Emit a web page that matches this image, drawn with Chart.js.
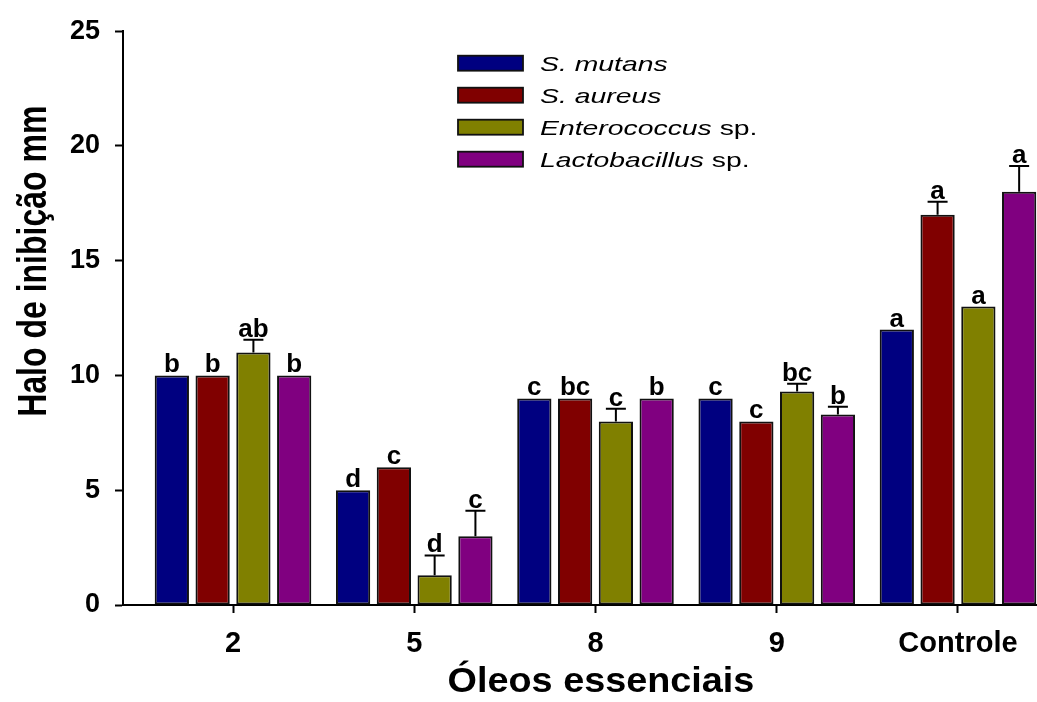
<!DOCTYPE html>
<html>
<head>
<meta charset="utf-8">
<script src="https://cdn.jsdelivr.net/npm/chart.js@4/dist/chart.umd.min.js"></script>
<style>
  html, body { margin: 0; padding: 0; background: #fff; overflow: hidden; }
  #wrap { width: 1037px; height: 702px; position: relative; }
</style>
</head>
<body>
<div id="wrap"><canvas id="chart" width="1037" height="702"></canvas></div>
<script>
// Essential oils (x categories) and the four test organisms
const categories = ['2', '5', '8', '9', 'Controle'];
const seriesNames = ['S. mutans', 'S. aureus', 'Enterococcus sp.', 'Lactobacillus sp.'];
const seriesColors = ['#000080', '#800000', '#808000', '#800080'];

// Mean inhibition halo (mm)
const sMutans       = [10, 5,   9, 9,   12];
const sAureus       = [10, 6,   9, 8,   17];
const enterococcus  = [11, 1.3, 8, 9.3, 13];
const lactobacillus = [10, 3,   9, 8.3, 18];

// Upper error bar length (mm)
const errMutans       = [0,    0,    0,    0,    0];
const errAureus       = [0,    0,    0,    0,    0.57];
const errEnterococcus = [0.56, 0.86, 0.55, 0.34, 0];
const errLactobacillus= [0,    1.11, 0,    0.34, 1.13];

// Significance letters
const lettersMutans        = ['b', 'd', 'c', 'c', 'a'];
const lettersAureus        = ['b', 'c', 'bc', 'c', 'a'];
const lettersEnterococcus  = ['ab', 'd', 'c', 'bc', 'a'];
const lettersLactobacillus = ['b', 'c', 'b', 'b', 'a'];

const yTicks = [0, 5, 10, 15, 20, 25];
const xTitle = 'Óleos essenciais';
const yTitle = 'Halo de inibição mm';

const seriesValues = [sMutans, sAureus, enterococcus, lactobacillus];
const seriesErrors = [errMutans, errAureus, errEnterococcus, errLactobacillus];
const seriesLetters = [lettersMutans, lettersAureus, lettersEnterococcus, lettersLactobacillus];

const datasets = seriesNames.map((name, s) => ({
  label: name,
  data: seriesValues[s].map((v, i) => ({ x: i, y: v })),
  errors: seriesErrors[s],
  letters: seriesLetters[s],
  backgroundColor: seriesColors[s],
  borderColor: '#111',
  borderWidth: 2,
  borderSkipped: false,
  categoryPercentage: 0.9,
  barPercentage: 0.84
}));

const FONT = "'Liberation Sans', Arial, sans-serif";

// Error bars, letters, legend and axis titles
const decorations = {
  id: 'decorations',
  afterDatasetsDraw(chart) {
    const ctx = chart.ctx;
    const yScale = chart.scales.y;
    ctx.save();
    chart.data.datasets.forEach((ds, s) => {
      const meta = chart.getDatasetMeta(s);
      meta.data.forEach((bar, i) => {
        const v = ds.data[i].y;
        const e = ds.errors[i];
        let top = bar.y;
        if (e > 0) {
          const yt = yScale.getPixelForValue(v + e);
          ctx.strokeStyle = '#000';
          ctx.lineWidth = 2;
          ctx.beginPath();
          ctx.moveTo(bar.x, bar.y);
          ctx.lineTo(bar.x, yt);
          ctx.moveTo(bar.x - 10, yt);
          ctx.lineTo(bar.x + 10, yt);
          ctx.stroke();
          top = yt;
        }
        ctx.fillStyle = '#000';
        ctx.font = 'bold 26px ' + FONT;
        ctx.textAlign = 'center';
        ctx.textBaseline = 'alphabetic';
        ctx.fillText(ds.letters[i], bar.x, top - 3);
      });
    });
    ctx.restore();
  },
  afterDraw(chart) {
    const ctx = chart.ctx;
    const area = chart.chartArea;
    ctx.save();

    // Legend
    const boxX = area.left + 335, boxW = 65, boxH = 15;
    const textX = area.left + 417;
    chart.data.datasets.forEach((ds, s) => {
      const cy = area.top + 32 + s * 32;
      ctx.fillStyle = ds.backgroundColor;
      ctx.fillRect(boxX, cy - boxH / 2, boxW, boxH);
      ctx.strokeStyle = '#111';
      ctx.lineWidth = 1.8;
      ctx.strokeRect(boxX, cy - boxH / 2, boxW, boxH);

      let name = ds.label, tail = '';
      if (name.endsWith(' sp.')) { tail = ' sp.'; name = name.slice(0, -4); }
      ctx.save();
      ctx.translate(textX, cy + 7.5);
      ctx.scale(1.35, 1);
      ctx.fillStyle = '#000';
      ctx.textAlign = 'left';
      ctx.textBaseline = 'alphabetic';
      ctx.font = 'italic 21px ' + FONT;
      ctx.fillText(name, 0, 0);
      if (tail) {
        const w = ctx.measureText(name).width;
        ctx.font = '21px ' + FONT;
        ctx.fillText(tail, w, 0);
      }
      ctx.restore();
    });

    // X axis title
    ctx.save();
    ctx.translate(area.left + 478, area.bottom + 87);
    ctx.scale(1.08, 1);
    ctx.fillStyle = '#000';
    ctx.font = 'bold 35px ' + FONT;
    ctx.textAlign = 'center';
    ctx.textBaseline = 'alphabetic';
    ctx.fillText(xTitle, 0, 0);
    ctx.restore();

    // Y axis title
    ctx.save();
    ctx.translate(46, area.top + 230);
    ctx.rotate(-Math.PI / 2);
    ctx.scale(1, 1.25);
    ctx.fillStyle = '#000';
    ctx.font = 'bold 32px ' + FONT;
    ctx.textAlign = 'center';
    ctx.textBaseline = 'alphabetic';
    ctx.fillText(yTitle, 0, 0);
    ctx.restore();

    ctx.restore();
  }
};

new Chart(document.getElementById('chart'), {
  type: 'bar',
  data: { datasets },
  plugins: [decorations],
  options: {
    responsive: false,
    animation: false,
    devicePixelRatio: 1,
    layout: { padding: { top: 27, right: 0, bottom: 0, left: 0 } },
    plugins: {
      legend: { display: false },
      tooltip: { enabled: false }
    },
    scales: {
      x: {
        type: 'linear',
        bounds: 'data',
        offset: false,
        min: -0.607,
        max: 4.436,
        afterBuildTicks: (scale) => {
          scale.ticks = categories.map((_, i) => ({ value: i }));
        },
        afterFit: (scale) => { scale.height = 97; },
        ticks: {
          callback: (value) => categories[value] ?? '',
          color: '#000',
          font: { family: FONT, size: 29, weight: 'bold' },
          padding: 14,
          maxRotation: 0,
          autoSkip: false
        },
        grid: {
          offset: false,
          drawOnChartArea: false,
          drawTicks: true,
          tickLength: 8,
          tickColor: '#000',
          tickWidth: 2
        },
        border: { display: true, color: '#000', width: 2 }
      },
      y: {
        min: 0,
        max: 25,
        afterBuildTicks: (scale) => {
          scale.ticks = yTicks.map(v => ({ value: v }));
        },
        afterFit: (scale) => { scale.width = 123; },
        ticks: {
          color: '#000',
          font: { family: FONT, size: 27, weight: 'bold' },
          padding: 15
        },
        grid: {
          drawOnChartArea: false,
          drawTicks: true,
          tickLength: 8,
          tickColor: '#000',
          tickWidth: 2
        },
        border: { display: true, color: '#000', width: 2 }
      }
    }
  }
});
</script>
</body>
</html>
